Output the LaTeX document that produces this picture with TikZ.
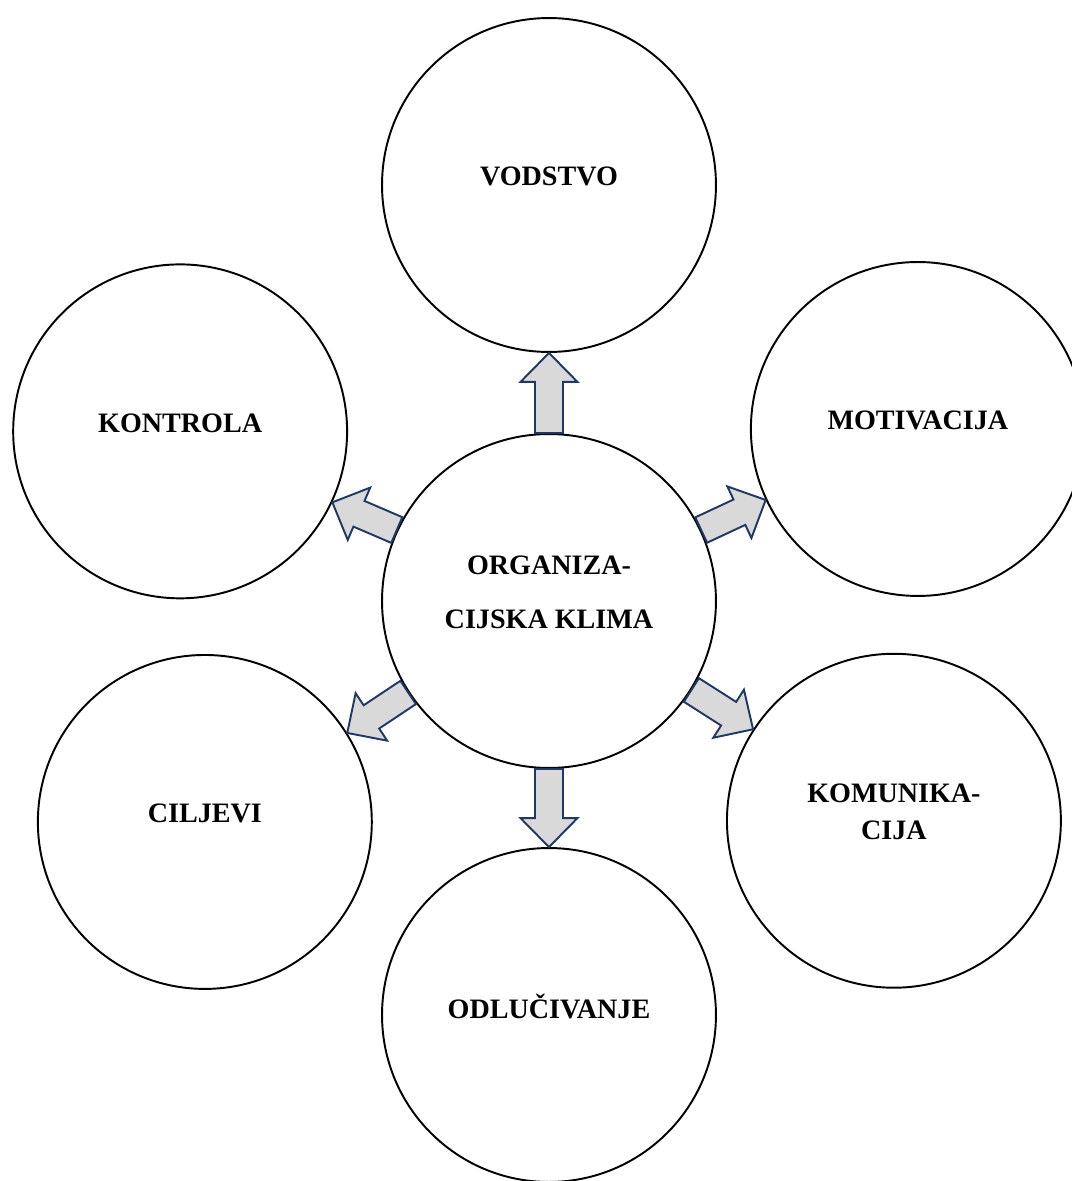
\documentclass[tikz,border=0pt]{standalone}
\usepackage{fontspec}
\setmainfont{Liberation Serif}
\usetikzlibrary{calc}
\definecolor{arrowfill}{HTML}{D9D9D9}
\definecolor{arrowline}{HTML}{1F3864}
\tikzset{
  bubble/.style={circle, draw, line width=1.1pt, minimum size=6.68cm, inner sep=0pt},
  lbl/.style={font=\bfseries\fontsize{16}{21}\selectfont, align=center, yshift=0.17cm},
  fatarrow/.style={draw=arrowline, fill=arrowfill, line width=1.1pt, line join=miter},
}
\newcommand\fatarrow[2]{%
  \path let \p1=($(#2)-(#1)$), \n1={atan2(\y1,\x1)}, \n2={\n1+180} in
    coordinate (tail) at (#1.\n1) coordinate (tip) at (#2.\n2);
  \coordinate (base) at ($(tip)!0.58cm!(tail)$);
  \draw[fatarrow] ($(tail)!0.28cm!90:(tip)$) -- ($(base)!0.28cm!90:(tip)$)
    -- ($(base)!0.57cm!90:(tip)$) -- (tip) -- ($(base)!0.57cm!-90:(tip)$)
    -- ($(base)!0.28cm!-90:(tip)$) -- ($(tail)!0.28cm!-90:(tip)$) -- cycle;
}
\begin{document}
\begin{tikzpicture}[x=0.02cm, y=0.02cm]
      \useasboundingbox (-549,-580) rectangle (523,601);
      \draw
        (0,0) node[bubble, label={[lbl, font=\bfseries\fontsize{16}{30.7}\selectfont]center:{ORGANIZA-\\CIJSKA KLIMA}}] (org) {}
        (90:416) node[bubble, label={[lbl]center:VODSTVO}] (vod) {}
        (25:407) node[bubble, label={[lbl]center:MOTIVACIJA}] (mot) {}
        (-32.5:409) node[bubble, label={[lbl]center:{KOMUNIKA-\\CIJA}}] (kom) {}
        (-90:414) node[bubble, label={[lbl]center:ODLUČIVANJE}] (odl) {}
        (212.7:409) node[bubble, label={[lbl]center:CILJEVI}] (cil) {}
        (155.3:406) node[bubble, label={[lbl]center:KONTROLA}] (kon) {};
      \fatarrow{org}{vod}
      \fatarrow{org}{mot}
      \fatarrow{org}{kom}
      \fatarrow{org}{odl}
      \fatarrow{org}{cil}
      \fatarrow{org}{kon}
    \end{tikzpicture}
\end{document}
